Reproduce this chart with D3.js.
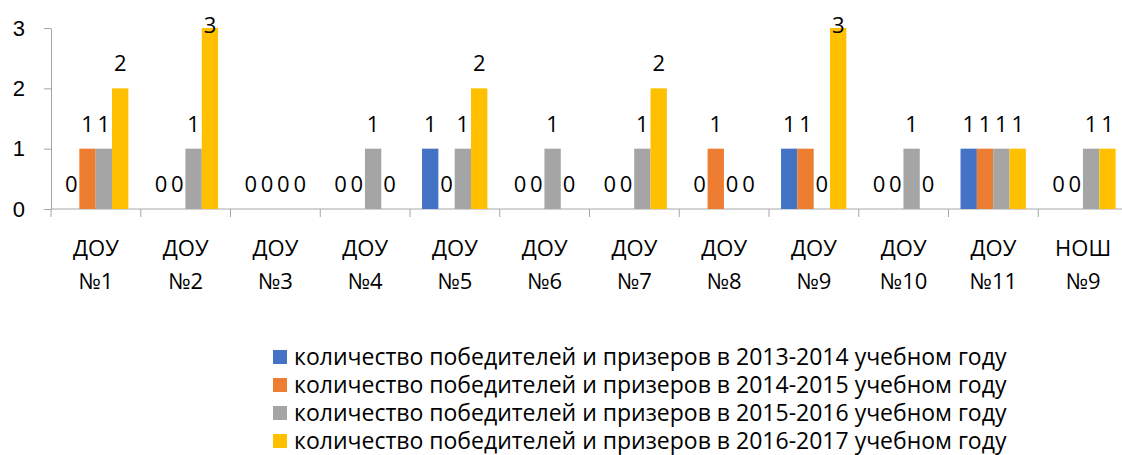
<!DOCTYPE html>
<meta charset="utf-8">
<title>Победители и призеры</title>
<style>

body {
  margin: 0;
  background: #fff;
}

svg {
  font-family: "Open Sans", sans-serif;
  font-size: 22px;
}

.axis path,
.axis line {
  fill: none;
  stroke: #a6a6a6;
}

.axis text {
  fill: #000;
  font-size: 22px;
}

.cat {
  font-size: 23px;
}

.legend text {
  font-size: 23px;
}

</style>
<svg width="1122" height="455"></svg>
<script src="https://d3js.org/d3.v7.min.js"></script>
<script>

var categories = ["ДОУ №1", "ДОУ №2", "ДОУ №3", "ДОУ №4", "ДОУ №5", "ДОУ №6",
                  "ДОУ №7", "ДОУ №8", "ДОУ №9", "ДОУ №10", "ДОУ №11", "НОШ №9"];

var years2013 = [0, 0, 0, 0, 1, 0, 0, 0, 1, 0, 1, 0];
var years2014 = [1, 0, 0, 0, 0, 0, 0, 1, 1, 0, 1, 0];
var years2015 = [1, 1, 0, 1, 1, 1, 1, 0, 0, 1, 1, 1];
var years2016 = [2, 3, 0, 0, 2, 0, 2, 0, 3, 0, 1, 1];

var seriesNames = [
  "количество победителей и призеров в 2013-2014 учебном году",
  "количество победителей и призеров в 2014-2015 учебном году",
  "количество победителей и призеров в 2015-2016 учебном году",
  "количество победителей и призеров в 2016-2017 учебном году"
];

var yTicks = [0, 1, 2, 3];

var colors = ["#4472c4", "#ed7d31", "#a5a5a5", "#ffc000"];

var series = [years2013, years2014, years2015, years2016];

var margin = {top: 28, left: 51},
    plotRight = 1128,
    plotBottom = 209;

var svg = d3.select("svg");

var x = d3.scaleBand()
    .domain(categories)
    .range([margin.left, plotRight]);

var xSub = d3.scaleBand()
    .domain(d3.range(series.length))
    .range([x.bandwidth() * 0.134, x.bandwidth() * (1 - 0.138)]);

var y = d3.scaleLinear()
    .domain([0, 3])
    .range([plotBottom, margin.top]);

// y axis
var gy = svg.append("g")
    .attr("class", "axis")
    .attr("transform", "translate(" + margin.left + ",0)")
    .call(d3.axisLeft(y).tickValues(yTicks).tickFormat(d3.format("d"))
      .tickSize(7).tickSizeOuter(0).tickPadding(19));

// x axis, ticks between categories
var gx = svg.append("g").attr("class", "axis");

gx.append("line")
    .attr("x1", margin.left).attr("x2", plotRight)
    .attr("y1", plotBottom).attr("y2", plotBottom);

gx.selectAll(".tick")
    .data(categories)
  .enter().append("line")
    .attr("x1", function(d) { return x(d); })
    .attr("x2", function(d) { return x(d); })
    .attr("y1", plotBottom)
    .attr("y2", plotBottom + 8);

gx.selectAll(".cat")
    .data(categories)
  .enter().append("text")
    .attr("class", "cat")
    .attr("text-anchor", "middle")
    .attr("x", function(d) { return x(d) + x.bandwidth() / 2; })
    .attr("y", 256)
    .each(function(d) {
      var parts = d.split(" ");
      var t = d3.select(this);
      parts.forEach(function(p, i) {
        t.append("tspan")
          .attr("x", x(d) + x.bandwidth() / 2)
          .attr("dy", i ? 33 : 0)
          .text(p);
      });
    });

// bars
var groups = svg.selectAll(".series")
    .data(series)
  .enter().append("g")
    .attr("fill", function(d, i) { return colors[i]; });

groups.each(function(vals, si) {
  var g = d3.select(this);
  g.selectAll("rect")
      .data(vals)
    .enter().append("rect")
      .attr("x", function(v, ci) { return x(categories[ci]) + xSub(si); })
      .attr("width", xSub.bandwidth())
      .attr("y", function(v) { return y(v); })
      .attr("height", function(v) { return plotBottom - y(v); });

  g.selectAll("text")
      .data(vals)
    .enter().append("text")
      .attr("fill", "#000")
      .attr("text-anchor", "middle")
      .attr("x", function(v, ci) { return x(categories[ci]) + xSub(si) + xSub.bandwidth() / 2; })
      .attr("y", function(v) { return Math.max(y(v) - 25, 25) + 8; })
      .text(function(v) { return v; });
});

// legend
var legend = svg.selectAll(".legend")
    .data(seriesNames)
  .enter().append("g")
    .attr("class", "legend")
    .attr("transform", function(d, i) { return "translate(273," + (357 + i * 28) + ")"; });

legend.append("rect")
    .attr("y", -7)
    .attr("width", 14)
    .attr("height", 14)
    .attr("fill", function(d, i) { return colors[i]; });

legend.append("text")
    .attr("x", 21)
    .attr("y", 8)
    .text(function(d) { return d; });

</script>
